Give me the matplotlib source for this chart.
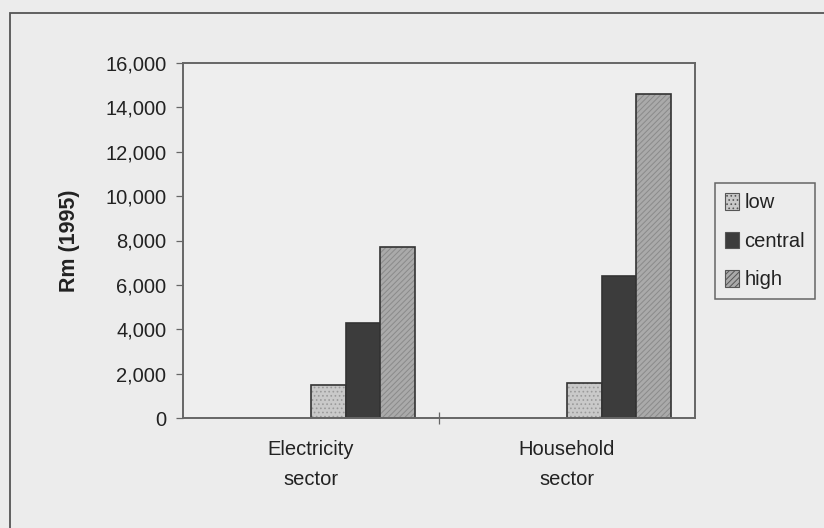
import matplotlib
matplotlib.use("Agg")
import matplotlib.pyplot as plt
from matplotlib.patches import Rectangle, Patch
from matplotlib.ticker import FuncFormatter
import numpy as np

plt.rcParams['font.family'] = ['Liberation Sans', 'DejaVu Sans']
plt.rcParams['hatch.linewidth'] = 0.7

# Cost estimates by sector and scenario, Rm (1995)
categories = ["Electricity\nsector", "Household\nsector"]
series_names = ["low", "central", "high"]
low = [1500, 1600]
central = [4300, 6400]
high = [7700, 14600]
yticks = [0, 2000, 4000, 6000, 8000, 10000, 12000, 14000, 16000]

bg = "#ececec"
ink = "#222222"
fs = 14.5
fig = plt.figure(figsize=(8.24, 5.28), dpi=100, facecolor=bg)

# outer frame of the chart area
fig.patches.append(Rectangle((10 / 824, -0.05), 1.2, (528 - 13) / 528 + 0.05,
                             transform=fig.transFigure, fill=False,
                             edgecolor="#555555", linewidth=1.3))

ax = fig.add_axes([183 / 824, 1 - 418 / 528, (695 - 183) / 824, (418 - 63) / 528])
ax.set_facecolor("#eeeeee")

x = np.arange(len(categories))
w = 0.135
# fill colour, hatch pattern, hatch colour
styles = [
    ("#c9c9c9", "....", "#9a9a9a"),
    ("#3c3c3c", None, "#3c3c3c"),
    ("#aaaaaa", "//////", "#8a8a8a"),
]
handles = []
for i, (vals, name, (fc, hatch, hc)) in enumerate(zip([low, central, high], series_names, styles)):
    pos = x + (i + 0.5) * w
    ax.bar(pos, vals, width=w, facecolor=fc, hatch=hatch, edgecolor=hc, linewidth=0)
    ax.bar(pos, vals, width=w, fill=False, edgecolor="#333333", linewidth=1.2)
    handles.append(Patch(facecolor=fc, hatch=hatch, edgecolor="#555555",
                         linewidth=0.8, label=name))

ax.set_xlim(-0.5, 1.5)
ax.set_ylim(0, 16000)
ax.set_yticks(yticks)
ax.yaxis.set_major_formatter(FuncFormatter(lambda v, p: f"{int(v):,}"))
ax.set_xticks([0.5])
ax.set_xticklabels([""])
ax.tick_params(axis="y", direction="out", length=5, width=0.9, color="#666666",
               labelsize=fs, labelcolor=ink, pad=7)
ax.tick_params(axis="x", direction="inout", length=9, width=0.9, color="#666666")
for s in ax.spines.values():
    s.set_color("#666666")
    s.set_linewidth(1.4)

for xi, lab in zip(x, categories):
    ax.text(xi, -1000, lab, ha="center", va="top", fontsize=fs,
            color=ink, linespacing=1.75)

ax.set_ylabel("Rm (1995)", fontsize=15.5, fontweight="bold", color=ink, labelpad=18)

leg = ax.legend(handles=handles, loc="upper left",
                bbox_to_anchor=(715 / 824, 1 - 183 / 528),
                bbox_transform=fig.transFigure, fontsize=fs, frameon=True,
                fancybox=False, handlelength=0.7, handleheight=0.9,
                handletextpad=0.25, borderpad=0.5, labelspacing=0.95,
                borderaxespad=0)
leg.get_frame().set_edgecolor("#444444")
leg.get_frame().set_linewidth(1.1)
leg.get_frame().set_facecolor(bg)
for t in leg.get_texts():
    t.set_color(ink)

fig.savefig("out.png", dpi=100, facecolor=bg)
